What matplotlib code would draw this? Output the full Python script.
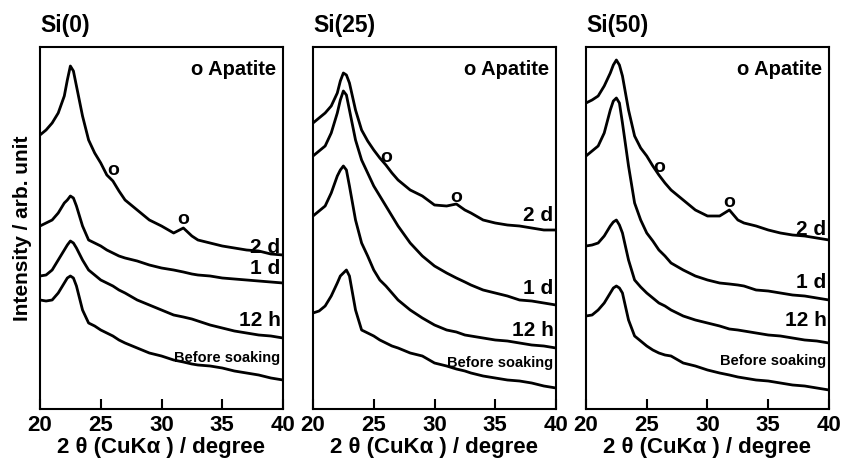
import numpy as np
import matplotlib
matplotlib.use('Agg')
import matplotlib.pyplot as plt

plt.rcParams['font.family'] = ['Liberation Sans', 'DejaVu Sans']
plt.rcParams['font.weight'] = 'bold'
plt.rcParams['axes.labelweight'] = 'bold'

# 2theta grid (degree), shared by every trace
two_theta = [20, 20.5, 21, 21.5, 22, 22.25, 22.5, 22.75, 23, 23.5, 24, 24.5, 25, 25.5,
             26, 26.5, 27, 28, 29, 30, 31, 31.8, 32.5, 33, 34, 35, 36, 37, 38, 39, 40]

samples = ['Si(0)', 'Si(25)', 'Si(50)']
times = ['2 d', '1 d', '12 h', 'Before soaking']

# intensity (arb. unit, offset traces as stacked in the figure)
si0_2d = [274, 279, 286, 296, 313, 329, 343, 338, 323, 293, 269, 256, 246, 234, 228, 218,
          209, 199, 189, 183, 176, 181, 173, 169, 166, 163, 161, 159, 158, 155, 154]
si0_1d = [183, 186, 189, 196, 206, 209, 213, 211, 203, 183, 169, 166, 163, 159, 156, 153,
          151, 148, 144, 141, 139, 137, 135, 134, 133, 131, 130, 129, 128, 127, 126]
si0_12h = [133, 134, 139, 149, 159, 164, 168, 166, 161, 149, 139, 134, 129, 126, 123, 119,
           116, 109, 104, 99, 94, 92, 90, 88, 84, 81, 78, 76, 74, 73, 71]
si0_before = [109, 108, 109, 116, 126, 131, 133, 131, 123, 99, 86, 83, 79, 76, 73, 69,
              66, 61, 56, 53, 49, 47, 45, 44, 43, 41, 38, 36, 34, 31, 29]

si25_2d = [286, 291, 296, 303, 316, 328, 336, 334, 326, 299, 279, 268, 259, 251, 244, 236,
           229, 219, 213, 204, 203, 205, 199, 196, 189, 186, 184, 183, 181, 179, 179]
si25_1d = [253, 258, 263, 276, 296, 309, 318, 314, 299, 269, 249, 236, 223, 213, 203, 193,
           183, 166, 153, 143, 136, 131, 127, 124, 119, 116, 113, 109, 108, 106, 104]
si25_12h = [193, 198, 203, 216, 233, 239, 243, 239, 223, 189, 166, 153, 139, 129, 123, 116,
            109, 99, 91, 84, 79, 77, 74, 73, 71, 69, 68, 66, 64, 63, 61]
si25_before = [96, 98, 103, 113, 126, 133, 136, 139, 133, 99, 79, 76, 73, 69, 66, 63,
               61, 56, 53, 46, 43, 40, 38, 36, 33, 31, 29, 28, 26, 23, 21]

si50_2d = [306, 309, 313, 323, 336, 344, 349, 344, 333, 299, 273, 261, 253, 243, 234, 226,
           219, 209, 199, 193, 193, 199, 189, 186, 183, 179, 176, 174, 173, 171, 169]
si50_1d = [253, 258, 263, 276, 299, 308, 311, 306, 286, 243, 206, 189, 176, 168, 159, 153,
           146, 139, 133, 129, 126, 125, 124, 123, 119, 118, 116, 114, 113, 111, 109]
si50_12h = [163, 164, 166, 173, 183, 187, 189, 184, 176, 149, 129, 122, 116, 111, 106, 103,
            99, 93, 89, 86, 83, 80, 79, 78, 76, 74, 73, 71, 69, 68, 66]
si50_before = [93, 94, 99, 106, 116, 121, 123, 121, 116, 89, 73, 68, 63, 59, 56, 54,
               53, 46, 43, 39, 36, 34, 32, 31, 29, 28, 26, 24, 23, 21, 19]

traces = [[si0_2d, si0_1d, si0_12h, si0_before],
          [si25_2d, si25_1d, si25_12h, si25_before],
          [si50_2d, si50_1d, si50_12h, si50_before]]

# apatite peak positions (2theta) and marker heights per sample
apatite_x = [26, 31.8]
apatite_y = [[238, 189], [251, 211], [241, 206]]

# label heights for each trace, per sample
label_y = [[161, 141, 89, 51], [193, 121, 79, 46], [179, 126, 88, 48]]

W, H = 853, 459
fig = plt.figure(figsize=(W / 100, H / 100), dpi=100)
lefts = [40, 313, 586]

for i, name in enumerate(samples):
    ax = fig.add_axes([lefts[i] / W, 50 / H, 243 / W, 362 / H])
    for j, t in enumerate(times):
        ax.plot(two_theta, traces[i][j], color='black', lw=2.0)
        if t == 'Before soaking':
            ax.text(39.8, label_y[i][j], t, ha='right', va='center', fontsize=10.5,
                    fontweight='bold')
        else:
            ax.text(39.8, label_y[i][j], t, ha='right', va='center', fontsize=15,
                    fontweight='bold')
    for k in range(2):
        ax.text(apatite_x[k], apatite_y[i][k], 'o', ha='center', va='center', fontsize=14,
                fontweight='bold')
    ax.text(39.45, 339, 'o Apatite', ha='right', va='center', fontsize=14.5,
            fontweight='bold')
    ax.text(0, 1.06, name, transform=ax.transAxes, ha='left', va='center', fontsize=16.5,
            fontweight='bold')

    ax.set_xlim(20, 40)
    ax.set_ylim(0, 362)
    ax.set_xticks([20, 25, 30, 35, 40])
    ax.set_xticklabels(['20', '25', '30', '35', '40'], fontsize=16, fontweight='bold')
    ax.set_yticks([])
    ax.tick_params(axis='x', direction='in', length=7, width=1.5, pad=4)
    for s in ax.spines.values():
        s.set_linewidth(1.5)
    ax.set_xlabel('2 θ (CuKα ) / degree', fontsize=16, fontweight='bold', labelpad=1)
    if i == 0:
        ax.set_ylabel('Intensity / arb. unit', fontsize=15, fontweight='bold', labelpad=6)

fig.savefig('out.png', dpi=100)
